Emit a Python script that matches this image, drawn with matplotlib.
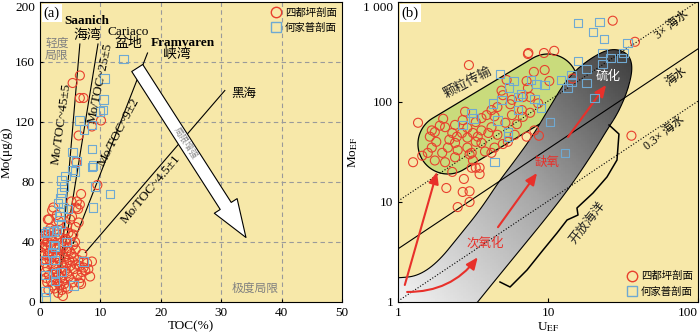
import numpy as np
import matplotlib
matplotlib.use('Agg')
import matplotlib.pyplot as plt
from matplotlib.patches import Polygon, FancyArrowPatch, ArrowStyle
from matplotlib.colors import LinearSegmentedColormap
from matplotlib.lines import Line2D
from matplotlib.ticker import NullLocator

plt.rcParams['font.family'] = ['Liberation Serif', 'Noto Sans CJK SC']
plt.rcParams['mathtext.fontset'] = 'stix'

BG = '#F7E8A9'
RED = '#E8402E'
BLUE = '#6FA9D2'
GREEN = '#C9DB7C'

# ---------------- panel (a) data: TOC (%), Mo (ug/g) ----------------
sdp_toc_a = [6.6, 5.4, 6.6, 7.2, 6.4, 8.6, 10.1, 6.0, 9.5, 6.8, 6.6, 6.1, 5.2, 2.2, 2.0, 6.0, 6.3,
             5.3, 5.0, 1.5, 1.3, 4.5, 1.7, 4.7, 5.5, 1.2, 0.5, 0.2, 5.5, 7.2, 8.6, 8.3, 6.7, 7.2,
             1.4, 3.0, 0.6, 0.9, 1.1, 1.3, 1.6, 1.9, 2.2, 2.5, 2.8, 3.1, 3.4, 3.7, 4.0, 4.3, 4.6,
             1.0, 1.4, 1.8, 2.1, 2.4, 2.7, 3.0, 3.3, 3.6, 3.9, 4.2, 4.5, 4.8, 5.1, 5.4, 5.7, 6.0,
             6.3, 6.6, 6.9, 7.5, 4.0, 4.4, 4.8, 5.2, 5.6, 2.4, 2.9, 3.3, 3.7, 1.2, 1.5, 1.8, 2.1,
             2.4, 0.8, 0.9, 1.2, 1.6, 2.6, 3.2, 4.1, 5.9, 6.4, 5.8, 7.0, 7.8, 8.0, 2.9, 3.3, 3.6,
             2.6, 2.3, 0.4, 0.7, 1.0, 3.9, 4.3, 5.0, 5.4, 6.2, 6.5, 2.8, 3.1, 0.7, 5.2, 4.4, 4.6,
             3.5, 2.0, 1.0, 4.9, 3.8, 5.9, 6.8, 1.8, 2.7]
sdp_mo_a = [151, 146, 136, 136, 111, 117, 121, 93, 78, 72, 65, 67, 67, 63, 61, 63, 62,
            57, 55, 55, 55, 51, 49, 46, 45, 40, 41, 33, 38, 27, 27, 17, 16, 23,
            8, 6, 42, 38, 35, 31, 28, 26, 24, 22, 20, 18, 16, 14, 12, 10, 9,
            45, 47, 44, 41, 38, 35, 32, 29, 26, 23, 21, 19, 17, 15, 13, 22, 25,
            28, 24, 20, 21, 30, 34, 28, 32, 30, 48, 45, 43, 40, 23, 18, 14, 11,
            9, 26, 20, 13, 33, 30, 36, 47, 50, 53, 40, 32, 26, 22, 13, 11, 8,
            16, 19, 37, 31, 28, 37, 42, 24, 27, 18, 13, 58, 54, 44, 44, 26, 36,
            20, 30, 16, 34, 4, 35, 12, 37, 42]
hjp_toc_a = [13.8, 10.7, 10.5, 10.4, 9.9, 6.5, 7.3, 8.6, 5.4, 8.6, 8.8, 6.0, 11.6, 9.1, 8.8, 8.6,
             5.8, 5.3, 3.6, 3.6, 3.4, 3.0, 3.2, 3.3, 2.2, 1.7, 0.8, 1.2, 2.5, 0.8, 2.5, 3.6, 2.5,
             0.8, 0.8, 5.5, 7.2, 1.0, 2.5, 4.0, 4.2, 3.8, 3.5, 4.6, 2.8, 4.4, 2.2, 2.0]
hjp_mo_a = [162, 149, 135, 128, 127, 121, 115, 118, 100, 102, 91, 94, 72, 77, 63, 90,
            87, 88, 81, 73, 69, 66, 57, 60, 47, 47, 46, 47, 37, 28, 28, 20, 19,
            18, 7, 11, 27, 3, 14, 77, 84, 63, 52, 62, 48, 40, 38, 33]

# Mo/TOC reference lines (TOC0, Mo0, TOC1, Mo1) and labels
ref_lines_a = [(3.0, 3, 6.6, 172), (3.8, 28, 9.6, 172), (5.5, 39, 17.8, 166), (7.5, 33, 30.6, 141)]
ref_labels_a = ['Mo/TOC~45±5', 'Mo/TOC~25±5', 'Mo/TOC~9±2', 'Mo/TOC~4.5±1']
ref_label_pos_a = [(3.6, 119, 82), (9.9, 146, 78), (13.0, 113, 62), (18.3, 75, 50)]

# ---------------- panel (b) data: U_EF, Mo_EF ----------------
sdp_u_b = [2.97, 1.36, 1.26, 7.4, 27, 38, 11, 9.4, 7.35, 9.5, 8.05, 10.2, 7.6, 7.35, 7.6, 8.6, 8.1,
           8.7, 36, 14.6, 2.1, 2.7, 3.0, 2.5, 3.0, 2.3, 2.75, 3.5, 3.3,
           2.0, 2.4, 2.7, 2.9, 3.3, 3.6, 3.9, 4.2, 4.6, 5.75, 6.8, 6.7, 5.75, 5.0, 5.3, 7.2, 7.2,
           6.0, 5.4, 4.4, 3.8, 3.1, 2.5, 2.15, 1.8, 1.63, 1.76, 2.06, 2.3, 2.47, 2.67, 2.9, 3.16,
           3.4, 3.6, 4.0, 4.2, 3.6, 2.9, 2.4, 1.97, 1.58, 1.76, 2.06, 2.4, 3.16, 3.5, 3.1, 1.68,
           4.2, 4.6, 5.2, 6.8, 1.45, 1.68, 6.2, 5.6, 4.9, 3.3, 2.8, 2.2, 1.9, 3.0, 4.4, 5.0]
sdp_mo_b = [234, 62, 25, 309, 650, 400, 325, 309, 302, 209, 200, 162, 112, 138, 78, 97, 52,
            46, 46, 172, 13.8, 12.6, 12.8, 8.9, 10, 20, 17, 19, 22,
            68, 59, 66, 55, 63, 69, 74, 83, 89, 74, 112, 83, 105, 117, 166, 162, 45,
            47, 40, 35, 32, 31, 33, 35, 40, 45, 50, 56, 49, 45, 49, 44, 49,
            45, 52, 49, 56, 39, 35, 39, 31, 31, 26, 25, 28, 26, 22, 22, 35,
            31, 47, 62, 71, 29, 52, 60, 95, 130, 40, 80, 42, 58, 30, 72, 38]
hjp_u_b = [4.8, 5.9, 5.5, 4.9, 6.3, 4.3, 6.3, 3.1, 4.6, 2.7, 3.2, 5.4, 5.4, 4.4, 15.8, 22, 20,
           23.6, 34, 15.8, 23, 26, 31, 32, 23, 18, 14.4, 14.4, 12.2, 13.5, 18, 20.5, 10.3, 13,
           8.4, 9.5, 9, 8.1, 7.7, 6.6]
hjp_mo_b = [191, 162, 140, 105, 112, 97, 83, 78, 65, 59, 68, 50, 45, 25, 617, 630, 500,
            427, 389, 257, 309, 275, 275, 309, 240, 213, 186, 158, 166, 138, 155, 110, 63, 31,
            151, 148, 87, 107, 166, 120]

sw_ratio = 3.4
sw_mult = [0.3, 1.0, 3.0]
sw_styles = [':', '-', ':']
sw_labels = ['0.3× 海水', '海水', '3× 海水']
sw_label_pos = [(60, 49), (72, 178), (67, 590)]

# region outlines in log10 space
shuttle_c1 = (0.333, 1.58)
shuttle_c2 = (1.0, 2.18)
shuttle_r = 30.0
px_per_decade = (150.0, 100.0)
euxinic_log = [(-0.15, 0.24), (0.0, 0.24), (0.133, 0.26), (0.267, 0.40), (0.413, 0.67), (0.547, 0.92),
               (0.68, 1.22), (0.767, 1.39), (0.893, 1.65), (1.0, 1.92), (1.133, 2.25), (1.293, 2.45),
               (1.427, 2.54), (1.533, 2.49), (1.567, 2.35), (1.533, 2.12), (1.467, 1.89),
               (1.393, 1.72), (1.30, 1.49), (1.147, 1.15), (0.993, 0.85), (0.813, 0.52),
               (0.633, 0.19), (0.45, -0.15), (-0.15, -0.15)]
bracket_log = [(1.407, 1.77), (1.473, 1.68), (1.46, 1.42), (1.393, 1.25), (1.30, 1.09),
               (1.193, 0.94), (1.20, 0.87), (1.127, 0.82), (1.06, 0.69), (0.967, 0.52),
               (0.86, 0.32), (0.747, 0.15), (0.68, 0.20)]
red_arrows_b = [((1.11, 1.48), (1.82, 20), 0.0), ((1.15, 1.26), (3.4, 2.8), 0.25),
                ((4.64, 5.6), (8.45, 19.5), 0.0), ((13.6, 44.7), (24.4, 148), 0.0)]


def chaikin(pts, n=3):
    pts = np.asarray(pts, float)
    for _ in range(n):
        q = np.roll(pts, -1, axis=0)
        a = 0.75 * pts + 0.25 * q
        b = 0.25 * pts + 0.75 * q
        new = np.empty((2 * len(pts), 2))
        new[0::2] = a
        new[1::2] = b
        pts = new
    return pts


fig = plt.figure(figsize=(7, 3.33), dpi=100)

# ======================= panel (a) =======================
axa = fig.add_axes([40 / 700, 31 / 333, 302 / 700, 300 / 333])
axa.set_facecolor(BG)
axa.set_xlim(0, 50)
axa.set_ylim(0, 200)
axa.set_xticks(range(0, 51, 10))
axa.set_yticks(range(0, 201, 40))
axa.tick_params(direction='in', length=2, labelsize=9.5)
axa.get_yticklabels()[-1].set_va('top')
for v in [10, 20, 30, 40]:
    axa.axvline(v, color='#9a9a9a', ls=(0, (4, 3)), lw=0.8, zorder=0.5)
for v in [40, 80, 120, 160]:
    axa.axhline(v, color='#9a9a9a', ls=(0, (4, 3)), lw=0.8, zorder=0.5)

for (x0, y0, x1, y1) in ref_lines_a:
    axa.plot([x0, x1], [y0, y1], color='k', lw=0.8, zorder=2)
for lab, (x, y, r) in zip(ref_labels_a, ref_label_pos_a):
    axa.text(x, y, lab, rotation=r, ha='center', va='center', fontsize=9.5,
             rotation_mode='anchor', zorder=6)

axa.scatter(sdp_toc_a, sdp_mo_a, s=42, marker='o', facecolors='none', edgecolors=RED, lw=0.8, zorder=3)
axa.scatter(hjp_toc_a, hjp_mo_a, s=38, marker='s', facecolors='none', edgecolors=BLUE, lw=0.8, zorder=3)

arr = FancyArrowPatch((16.1, 156), (34.1, 43),
                      arrowstyle=ArrowStyle('simple', head_length=27, head_width=19.5, tail_width=9.4),
                      mutation_scale=1, fc='white', ec='black', lw=0.8, shrinkA=0, shrinkB=0, zorder=4)
axa.add_patch(arr)
axa.text(24.1, 106, '局限增强', rotation=-57, color='#8a8a8a', fontsize=6.5,
         ha='center', va='center', rotation_mode='anchor', zorder=5)

axa.text(7.8, 187, 'Saanich', ha='center', va='center', fontsize=9.5, fontweight='bold')
axa.text(7.8, 178, '海湾', ha='center', va='center', fontsize=10)
axa.text(14.6, 180, 'Cariaco', ha='center', va='center', fontsize=9.5)
axa.text(14.6, 172, '盆地', ha='center', va='center', fontsize=10)
axa.text(23.6, 173, 'Framvaren', ha='center', va='center', fontsize=9.5, fontweight='bold')
axa.text(22.7, 165, '峡湾', ha='center', va='center', fontsize=10)
axa.text(2.8, 172, '轻度', ha='center', va='center', fontsize=8.5, color='#808080')
axa.text(2.8, 164, '局限', ha='center', va='center', fontsize=8.5, color='#808080')
axa.text(35.6, 9, '极度局限', ha='center', va='center', fontsize=8.5, color='#808080')
axa.text(33.8, 139, '黑海', ha='center', va='center', fontsize=9)
axa.text(0.012, 0.985, '(a)', transform=axa.transAxes, ha='left', va='top', fontsize=10.5,
         bbox=dict(fc='white', ec='none', pad=1.5), zorder=7)
axa.set_xlabel('TOC(%)', fontsize=9.5, labelpad=1)
axa.set_ylabel('Mo(μg/g)', fontsize=9.5, labelpad=2)
hA = [Line2D([], [], ls='none', marker='o', mfc='none', mec=RED, ms=7.5),
      Line2D([], [], ls='none', marker='s', mfc='none', mec=BLUE, ms=7.5)]
axa.legend(hA, ['四都坪剖面', '何家普剖面'], loc='upper right', frameon=False, fontsize=7.5,
           handlelength=1, handletextpad=0.4, labelspacing=0.5, borderaxespad=0.1)

# ======================= panel (b) =======================
axb = fig.add_axes([398 / 700, 31 / 333, 300 / 700, 300 / 333])
axb.set_facecolor(BG)
axb.set_xscale('log')
axb.set_yscale('log')
axb.set_xlim(1, 100)
axb.set_ylim(1, 1000)
axb.set_xticks([1, 10, 100])
axb.set_xticklabels(['1', '10', '100'])
axb.set_yticks([1, 10, 100, 1000])
axb.set_yticklabels(['1', '10', '100', '1 000'])
axb.xaxis.set_minor_locator(NullLocator())
axb.yaxis.set_minor_locator(NullLocator())
axb.tick_params(direction='in', length=3, labelsize=9.5)
axb.get_yticklabels()[-1].set_va('top')
axb.get_xticklabels()[-1].set_ha('right')

# particulate shuttle region (stadium)
S = np.array(px_per_decade)
c1 = np.array(shuttle_c1) * S
c2 = np.array(shuttle_c2) * S
d = c2 - c1
ang = np.arctan2(d[1], d[0])
t1 = np.linspace(ang - np.pi / 2, ang + np.pi / 2, 60)
t2 = np.linspace(ang + np.pi / 2, ang + 3 * np.pi / 2, 60)
arc2 = c2 + shuttle_r * np.column_stack([np.cos(t1), np.sin(t1)])
arc1 = c1 + shuttle_r * np.column_stack([np.cos(t2), np.sin(t2)])
st = np.vstack([arc2, arc1]) / S
axb.add_patch(Polygon(10 ** st, closed=True, fc=GREEN, ec='k', lw=0.9, zorder=1))

# euxinic band with gradient
eu = 10 ** chaikin(euxinic_log, 3)
clip_poly = Polygon(eu, closed=True, transform=axb.transData)
gx = np.logspace(-0.2, 2.1, 160)
gy = np.logspace(-0.2, 3.1, 220)
GX, GY = np.meshgrid(gx, gy)
val = np.clip((np.log10(GX) / 1.55 + np.log10(GY) / 2.55) / 2.0, 0, 1)
cmap = LinearSegmentedColormap.from_list('g', ['#f2f2f2', '#a6a6a6', '#3a3a3a'])
pm = axb.pcolormesh(GX, GY, val[:-1, :-1], cmap=cmap, vmin=0, vmax=1, shading='flat', zorder=2,
                    antialiased=False, edgecolors='none')
pm.set_clip_path(clip_poly)
axb.add_patch(Polygon(eu, closed=True, fc='none', ec='k', lw=0.8, zorder=2.1))

ux = np.array([1.0, 100.0])
for m, ls in zip(sw_mult, sw_styles):
    axb.plot(ux, ux * sw_ratio * m, color='k', ls=ls, lw=0.8, zorder=3)
for lab, (x, y) in zip(sw_labels, sw_label_pos):
    axb.text(x, y, lab, rotation=38, ha='center', va='center', fontsize=8.5, rotation_mode='anchor', zorder=6)

br = 10 ** np.array(bracket_log)
axb.plot(br[:, 0], br[:, 1], color='k', lw=1.1, zorder=3)

for (p0, p1, rad) in red_arrows_b:
    axb.annotate('', xy=p1, xytext=p0,
                 arrowprops=dict(arrowstyle='-|>,head_length=0.7,head_width=0.3', color='#E8302A',
                                 lw=1.5, shrinkA=0, shrinkB=0, connectionstyle=f'arc3,rad={rad}'),
                 zorder=4)

axb.scatter(sdp_u_b, sdp_mo_b, s=42, marker='o', facecolors='none', edgecolors=RED, lw=0.8, zorder=5)
axb.scatter(hjp_u_b, hjp_mo_b, s=38, marker='s', facecolors='none', edgecolors=BLUE, lw=0.8, zorder=5)

axb.text(2.93, 155, '颗粒传输', rotation=28, ha='center', va='center', fontsize=9.5, color='#222222',
         rotation_mode='anchor', zorder=6)
axb.text(25, 178, '硫化', ha='center', va='center', fontsize=9, color='white', zorder=6)
axb.text(9.85, 24.5, '缺氧', ha='center', va='center', fontsize=9, color='#E8302A', zorder=6)
axb.text(3.8, 3.9, '次氧化', ha='center', va='center', fontsize=9, color='#E8302A', zorder=6)
axb.text(18.2, 6.2, '开放海洋', rotation=52, ha='center', va='center', fontsize=9, color='#222222',
         rotation_mode='anchor', zorder=6)
axb.text(0.012, 0.985, '(b)', transform=axb.transAxes, ha='left', va='top', fontsize=10.5,
         bbox=dict(fc='white', ec='none', pad=1.5), zorder=7)
axb.set_xlabel(r'U$_{\mathrm{EF}}$', fontsize=9.5, labelpad=1)
axb.set_ylabel(r'Mo$_{\mathrm{EF}}$', fontsize=9.5, labelpad=2)
hB = [Line2D([], [], ls='none', marker='o', mfc='none', mec=RED, ms=7.5),
      Line2D([], [], ls='none', marker='s', mfc='none', mec=BLUE, ms=7.5)]
axb.legend(hB, ['四都坪剖面', '何家普剖面'], loc='lower right', frameon=False, fontsize=7.5,
           handlelength=1, handletextpad=0.4, labelspacing=0.5, borderaxespad=0.1)

fig.savefig('out.png', dpi=100)
